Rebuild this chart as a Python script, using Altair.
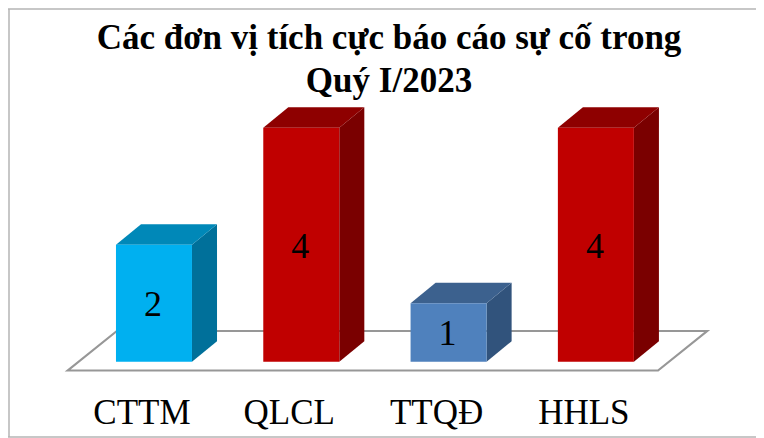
import altair as alt
import pandas as pd

# Chart values
categories = ["CTTM", "QLCL", "TTQĐ", "HHLS"]
values = [2, 4, 1, 4]
front_colors = ["#00B0F0", "#C00000", "#4F81BD", "#C00000"]
top_colors = ["#0088B8", "#8E0000", "#3C618E", "#8E0000"]
side_colors = ["#00709A", "#7A0000", "#31537C", "#7A0000"]
title_lines = ["Các đơn vị tích cực báo cáo sự cố trong", "Quý I/2023"]

# Scales: category index on x, value on y
X_DOMAIN = [-0.991, 4.087]
Y_DOMAIN = [-1.304, 6.046]
HALF = 0.258      # half bar width, category units
DX = 0.170        # depth, category units
DY = 0.350        # depth, value units
x_s = alt.Scale(domain=X_DOMAIN, nice=False, zero=False)
y_s = alt.Scale(domain=Y_DOMAIN, nice=False, zero=False)
X = alt.X("x:Q", scale=x_s, axis=None)
Y = alt.Y("y:Q", scale=y_s, axis=None)
Y2 = alt.Y2("y2:Q")

# Floor parallelogram
fl, fr = -0.585, 3.422
fd = 0.333
fb, ft = -0.150, 0.525
floor = pd.DataFrame({
    "x": [fl, fl + fd, fr, fr + fd],
    "y": [fb, fb, fb, ft],
    "y2": [fb, ft, ft, ft],
})


def faces(i, v):
    l, r = i - HALF, i + HALF
    side = [(r, 0, v), (r + DX, DY, v + DY)]
    top = [(l, v, v), (l + DX, v, v + DY), (r, v, v + DY), (r + DX, v + DY, v + DY)]
    return side, top


layers = [
    alt.Chart(floor).mark_area(fill="white", stroke="#979797", strokeWidth=2.2, orient="vertical")
    .encode(x=X, y=Y, y2=Y2)
]
for i, v in enumerate(values):
    side, top = faces(i, v)
    df_side = pd.DataFrame(side, columns=["x", "y", "y2"])
    df_top = pd.DataFrame(top, columns=["x", "y", "y2"])
    df_front = pd.DataFrame({"x": [i - HALF], "x2": [i + HALF], "y": [0], "y2": [v]})
    layers += [
        alt.Chart(df_side).mark_area(color=side_colors[i], orient="vertical").encode(x=X, y=Y, y2=Y2),
        alt.Chart(df_top).mark_area(color=top_colors[i], orient="vertical").encode(x=X, y=Y, y2=Y2),
        alt.Chart(df_front).mark_rect(color=front_colors[i]).encode(x=X, x2="x2:Q", y=Y, y2=Y2),
    ]

table = pd.DataFrame({"x": range(4), "cat": categories, "v": values})
table["mid"] = table["v"] / 2
table["lab"] = -0.877

value_labels = alt.Chart(table).mark_text(
    font="Liberation Serif", fontSize=36, color="black", baseline="middle", dy=2, dx=-1
).encode(x=X, y=alt.Y("mid:Q", scale=y_s, axis=None), text="v:Q")

cat_labels = alt.Chart(table).mark_text(
    font="Liberation Serif", fontSize=35, color="black", baseline="middle", dx=-12
).encode(x=X, y=alt.Y("lab:Q", scale=y_s, axis=None), text="cat:N")

frame = pd.DataFrame({"a": [0]})
frame_top = alt.Chart(frame).mark_rule(color="#B4B4B4", strokeWidth=1.5).encode(
    x=alt.value(0), x2=alt.value(748), y=alt.value(1))
frame_left = alt.Chart(frame).mark_rule(color="#B4B4B4", strokeWidth=1.5).encode(
    x=alt.value(1), y=alt.value(1), y2=alt.value(429))
frame_bottom = alt.Chart(frame).mark_rule(color="#B4B4B4", strokeWidth=1.5).encode(
    x=alt.value(0), x2=alt.value(748), y=alt.value(429))

chart = alt.layer(
    frame_top, frame_left, frame_bottom, *layers, value_labels, cat_labels
).properties(
    width=748,
    height=430,
    autosize=alt.AutoSizeParams(type="none"),
    padding=0,
    background="white",
    title=alt.TitleParams(
        text=title_lines, font="Liberation Serif", fontSize=35, fontWeight="bold",
        color="black", anchor="middle", dx=7, dy=91, lineHeight=43, offset=0,
    ),
).configure_view(stroke=None)

chart.save("out.html", embed_options={"renderer": "svg", "actions": False})
